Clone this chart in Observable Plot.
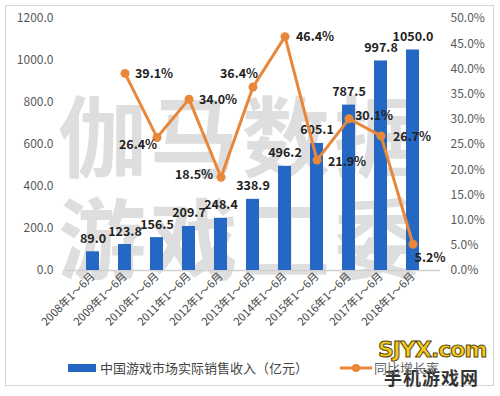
<!DOCTYPE html>
<html><head><meta charset="utf-8">
<script src="https://cdn.jsdelivr.net/npm/d3@7"></script>
<script src="https://cdn.jsdelivr.net/npm/@observablehq/plot@0.6"></script>
<style>
html,body{margin:0;padding:0;background:#fff;}
#wrap{position:relative;width:500px;height:396px;font-family:"Noto Sans CJK SC","Noto Sans",sans-serif;}
#frame{position:absolute;left:5px;top:5px;width:489px;height:381px;border:1.5px solid #d4d4d4;box-sizing:border-box;}
.wm{position:absolute;color:#dedede;font-weight:700;font-size:88px;letter-spacing:4px;white-space:nowrap;line-height:1;}
#chart{position:absolute;left:0;top:0;}
#legend{position:absolute;left:68px;top:358px;font-size:13px;color:#444;display:flex;align-items:center;white-space:nowrap;z-index:3;}
.sw{display:inline-block;}
#logo{position:absolute;left:378px;top:337px;text-align:left;z-index:2;}
#logo .a{font:900 22px "DejaVu Sans",sans-serif;color:#f4c81c;-webkit-text-stroke:1px #5a4a10;letter-spacing:-1px;}
#logo .b{font:700 18px "Noto Sans CJK SC",sans-serif;color:#333;margin-top:2px;margin-left:6px;letter-spacing:1px;}
</style></head>
<body>
<div id="wrap">
  <div id="frame"></div>
  <div class="wm" style="left:58px;top:88px;">伽马数据</div>
  <div class="wm" style="left:58px;top:190px;">游戏工委</div>
  <div id="chart"></div>
  <div id="logo"><div class="a">SJYX.com</div><div class="b">手机游戏网</div></div>
  <div id="legend">
    <span class="sw" style="width:28px;height:8px;background:#2468c4;margin-right:4px;"></span>
    <span>中国游戏市场实际销售收入（亿元）</span>
    <span style="display:inline-block;width:32px;"></span>
    <svg width="32" height="10" style="margin-right:2px"><line x1="0" y1="5" x2="32" y2="5" stroke="#e8873a" stroke-width="3"/><circle cx="16" cy="5" r="4" fill="#e8873a"/></svg>
    <span style="color:#666">同比增长率</span>
  </div>
</div>
<script>
const categories = ["2008年1～6月","2009年1～6月","2010年1～6月","2011年1～6月","2012年1～6月","2013年1～6月","2014年1～6月","2015年1～6月","2016年1～6月","2017年1～6月","2018年1～6月"];
const revenue = [89.0,123.8,156.5,209.7,248.4,338.9,496.2,605.1,787.5,997.8,1050.0];
const growth = [null,39.1,26.4,34.0,18.5,36.4,46.4,21.9,30.1,26.7,5.2];
const leftTicks = [0,200,400,600,800,1000,1200];
const rightTicks = [0,5,10,15,20,25,30,35,40,45,50];

const K = 1200/50; // percent -> left-axis units
const bars = categories.map((c,i)=>({c, v: revenue[i]}));
const pts = categories.map((c,i)=>({c, g: growth[i]})).filter(d=>d.g!=null);
// label placement for the growth labels (style only)
const place = {
  "2009年1～6月":[29,1],"2010年1～6月":[-19,8],"2011年1～6月":[29,1],"2012年1～6月":[-27,-2],
  "2013年1～6月":[-14,-13],"2014年1～6月":[30,0],"2015年1～6月":[30,2],"2016年1～6月":[25,-3],
  "2017年1～6月":[31,1],"2018年1～6月":[17,14]
};
const lbl = pts.map(d=>({...d, dx: place[d.c][0], dy: place[d.c][1]}));
const orange = "#e8873a";

const chart = Plot.plot({
  width: 500, height: 352,
  marginLeft: 65, marginRight: 60, marginTop: 18, marginBottom: 82,
  style: {background:"transparent", fontFamily:'"Noto Sans CJK SC","Noto Sans",sans-serif'},
  x: {type:"band", domain: categories, padding: 0.58, label: null},
  y: {domain:[0,1200], label: null},
  marks: [
    Plot.ruleY([0], {stroke:"#d0d0d0", strokeWidth:1.5}),
    Plot.barY(bars, {x:"c", y:"v", fill:"#2468c4"}),
    Plot.text(bars, {x:"c", y:"v", text: d=>d.v.toFixed(1), dy:-13, fontSize:12.5, fontWeight:"bold", fill:"#222"}),
    Plot.line(pts, {x:"c", y: d=>d.g*K, stroke: orange, strokeWidth:3}),
    Plot.dot(pts, {x:"c", y: d=>d.g*K, r:4.5, fill: orange}),
    ...lbl.map(d=>Plot.text([d], {x:"c", y: e=>e.g*K, text: e=>e.g.toFixed(1)+"%", dx:d.dx, dy:d.dy, fontSize:12.5, fontWeight:"bold", fill:"#222"})),
    Plot.axisY({anchor:"left", ticks: leftTicks, tickFormat: d=>d.toFixed(1), tickSize:0, tickPadding:12, fontSize:12, color:"#595959", label:null}),
    Plot.axisY({anchor:"right", ticks: rightTicks.map(t=>t*K), tickFormat: d=>(d/K).toFixed(1)+"%", tickSize:0, tickPadding:10, fontSize:12, color:"#595959", label:null}),
    Plot.axisX({tickRotate:-45, tickSize:0, tickPadding:4, fontSize:11, color:"#444", label:null})
  ]
});
document.getElementById("chart").appendChild(chart);
</script>
</body></html>
